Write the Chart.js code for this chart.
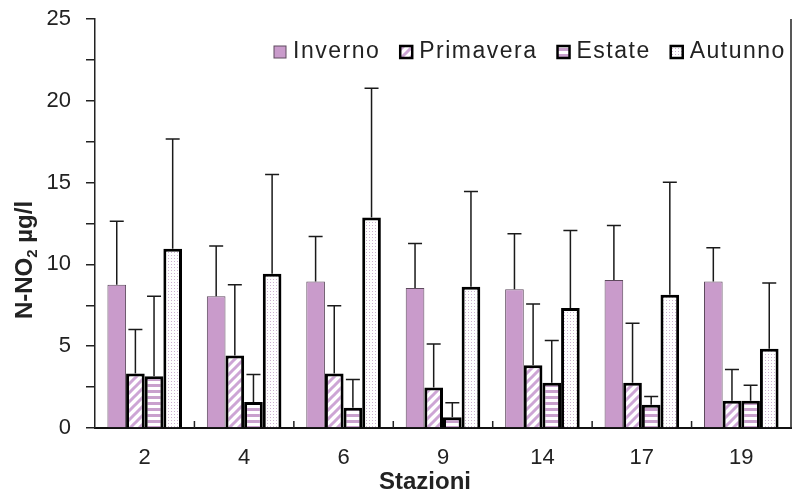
<!DOCTYPE html>
<html>
<head>
<meta charset="utf-8">
<title>N-NO2 per stazione</title>
<script src="https://cdn.jsdelivr.net/npm/chart.js@4.4.1/dist/chart.umd.min.js"></script>
<style>
    body { margin: 0; background: #fff; }
    #wrap { width: 795px; height: 494px; }
</style>
</head>
<body>
<div id="wrap"><canvas id="no2Chart" width="795" height="494"></canvas></div>
<script>
const stazioni = ["2", "4", "6", "9", "14", "17", "19"];

// seasonal means (N-NO2, µg/l)
const inverno   = [8.76, 8.05, 8.96, 8.56, 8.48, 9.04, 8.96];
const primavera = [3.33, 4.43, 3.33, 2.48, 3.84, 2.76, 1.67];
const estate    = [3.17, 1.59, 1.24, 0.65, 2.76, 1.42, 1.67];
const autunno   = [10.96, 9.43, 12.87, 8.64, 7.34, 8.15, 4.84];

// standard deviations, shown as upper error bars only
const invernoSd   = [3.88, 3.07, 2.75, 2.72, 3.39, 3.34, 2.06];
const primaveraSd = [2.69, 4.33, 4.15, 2.66, 3.74, 3.64, 1.91];
const estateSd    = [4.88, 1.68, 1.73, 0.89, 2.59, 0.51, 0.95];
const autunnoSd   = [6.70, 6.06, 7.90, 5.81, 4.73, 6.87, 4.02];

const yMin = 0;
const yMax = 25;
const yStep = 2.5;      // tick marks
const yLabelStep = 5;   // labelled ticks

const FONT = '"Liberation Sans", Arial, sans-serif';
const textColor = '#222';
const lilac = '#c99bcb';

const canvas = document.getElementById('no2Chart');
const ctx = canvas.getContext('2d');

// small repeating tiles for the hatched bars
function makePattern(size, draw) {
    const tile = document.createElement('canvas');
    tile.width = size;
    tile.height = size;
    const g = tile.getContext('2d');
    g.fillStyle = '#fff';
    g.fillRect(0, 0, size, size);
    draw(g, size);
    return ctx.createPattern(tile, 'repeat');
}

const diagonalFill = makePattern(9, (g, s) => {
    g.strokeStyle = '#cda5d5';
    g.lineWidth = 3;
    g.beginPath();
    g.moveTo(0, s); g.lineTo(s, 0);
    g.moveTo(-2, 2); g.lineTo(2, -2);
    g.moveTo(s - 2, s + 2); g.lineTo(s + 2, s - 2);
    g.stroke();
});

const stripeFill = makePattern(6, (g, s) => {
    g.fillStyle = '#c9a0cd';
    g.fillRect(0, 0, s, 3);
});

const dotFill = makePattern(3, (g, s) => {
    g.fillStyle = '#cbb0cf';
    g.fillRect(0, 0, 1, 1);
});

// upward error bars with a cap
const errorBars = {
    id: 'errorBars',
    afterDatasetsDraw(chart) {
        const c = chart.ctx;
        const y = chart.scales.y;
        c.save();
        c.strokeStyle = '#1a1a1a';
        c.lineWidth = 1.5;
        chart.data.datasets.forEach((ds, i) => {
            const meta = chart.getDatasetMeta(i);
            meta.data.forEach((bar, j) => {
                const top = y.getPixelForValue(ds.data[j] + ds.sd[j]);
                c.beginPath();
                c.moveTo(bar.x, bar.y);
                c.lineTo(bar.x, top);
                c.moveTo(bar.x - 7, top);
                c.lineTo(bar.x + 7, top);
                c.stroke();
            });
        });
        c.restore();
    }
};

// legend in the plot, axis titles, right frame line, inner category ticks
const decorations = {
    id: 'decorations',
    afterDraw(chart) {
        const c = chart.ctx;
        const area = chart.chartArea;
        const xScale = chart.scales.x;

        // legend row
        c.save();
        c.beginPath();
        c.rect(area.left, 0, area.right - area.left, area.bottom);
        c.clip();
        c.font = '23px ' + FONT;
        c.letterSpacing = '1.5px';
        c.textBaseline = 'alphabetic';
        const box = 12;
        const base = area.top + 39;
        let x = area.left + 179;
        chart.data.datasets.forEach(ds => {
            c.fillStyle = ds.backgroundColor;
            c.fillRect(x, base - box, box, box);
            c.lineWidth = ds.borderWidth > 1 ? 2.5 : 1;
            c.strokeStyle = ds.borderColor;
            c.strokeRect(x, base - box, box, box);
            c.fillStyle = textColor;
            c.fillText(ds.label, x + box + 7, base);
            x += box + 7 + c.measureText(ds.label).width + 20;
        });
        c.restore();

        // y title with subscript
        c.save();
        c.fillStyle = textColor;
        c.translate(area.left - 63, area.top + 241);
        c.rotate(-Math.PI / 2);
        const parts = [
            { t: 'N-NO', f: 'bold 24px ' + FONT, dy: 0 },
            { t: '2', f: 'bold 15px ' + FONT, dy: 5 },
            { t: ' µg/l', f: 'bold 24px ' + FONT, dy: 0 }
        ];
        let total = 0;
        parts.forEach(p => { c.font = p.f; total += c.measureText(p.t).width; });
        let px = -total / 2;
        parts.forEach(p => {
            c.font = p.f;
            c.fillText(p.t, px, p.dy);
            px += c.measureText(p.t).width;
        });
        c.restore();

        // x title
        c.save();
        c.fillStyle = textColor;
        c.font = 'bold 24px ' + FONT;
        c.textAlign = 'center';
        c.fillText('Stazioni', area.left + 330, area.bottom + 61);
        c.restore();

        // frame and small ticks between stations
        c.save();
        c.strokeStyle = '#222';
        c.lineWidth = 1.5;
        c.beginPath();
        c.moveTo(area.right, area.top);
        c.lineTo(area.right, area.bottom);
        for (let i = 1; i < stazioni.length; i++) {
            const bx = (xScale.getPixelForValue(i - 1) + xScale.getPixelForValue(i)) / 2;
            c.moveTo(bx, area.bottom);
            c.lineTo(bx, area.bottom - 7);
        }
        c.stroke();
        c.restore();
    }
};

new Chart(ctx, {
    type: 'bar',
    data: {
        labels: stazioni,
        datasets: [
            { label: 'Inverno', data: inverno, sd: invernoSd, backgroundColor: lilac, borderColor: '#5e4a5e', borderWidth: 1 },
            { label: 'Primavera', data: primavera, sd: primaveraSd, backgroundColor: diagonalFill, borderColor: '#000', borderWidth: 3 },
            { label: 'Estate', data: estate, sd: estateSd, backgroundColor: stripeFill, borderColor: '#000', borderWidth: 3 },
            { label: 'Autunno', data: autunno, sd: autunnoSd, backgroundColor: dotFill, borderColor: '#000', borderWidth: 3 }
        ]
    },
    options: {
        responsive: false,
        animation: false,
        devicePixelRatio: 1,
        datasets: {
            bar: { categoryPercentage: 0.75, barPercentage: 1 }
        },
        layout: { padding: { top: 19, right: 4, left: 0, bottom: 0 } },
        scales: {
            x: {
                ticks: { color: textColor, padding: 17, font: { family: FONT, size: 22 } },
                grid: { display: false, drawTicks: false },
                border: { color: '#111', width: 2 },
                afterFit: s => { s.height = 66; }
            },
            y: {
                min: yMin,
                max: yMax,
                ticks: {
                    stepSize: yStep,
                    padding: 15,
                    color: textColor,
                    font: { family: FONT, size: 22 },
                    callback: v => (v % yLabelStep === 0 ? v : '')
                },
                grid: { drawOnChartArea: false, drawTicks: true, tickLength: 9, color: '#222', lineWidth: 1.5 },
                border: { color: '#222', width: 1.5 },
                afterFit: s => {
                    s.width = 95;
                    s.paddingTop = 0;
                    s.paddingBottom = 0;
                }
            }
        },
        plugins: {
            legend: { display: false },
            tooltip: { enabled: false }
        }
    },
    plugins: [errorBars, decorations]
});
</script>
</body>
</html>
